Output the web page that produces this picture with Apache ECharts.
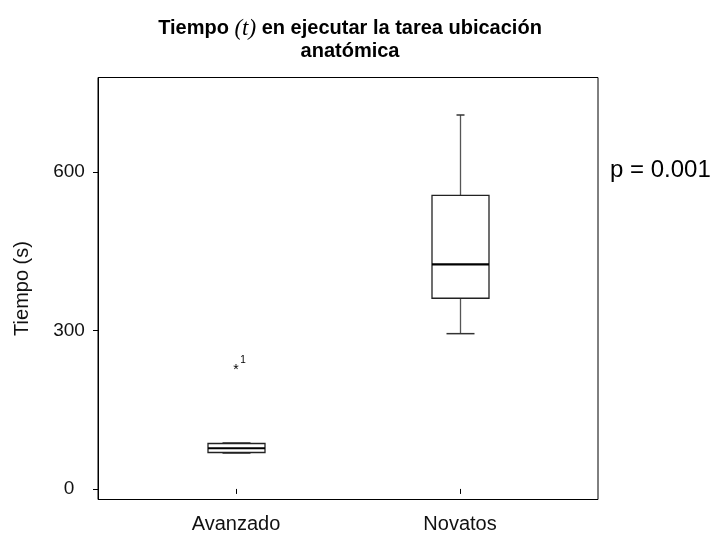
<!DOCTYPE html>
<html>
<head>
<meta charset="utf-8">
<script src="https://cdn.jsdelivr.net/npm/echarts@6/dist/echarts.min.js"></script>
<style>html,body{margin:0;padding:0;background:#fff;}#c{width:719px;height:540px;}</style>
</head>
<body>
<div id="c"></div>
<script>
// ---- data ----
const categories = ['Avanzado', 'Novatos'];
// [min, Q1, median, Q3, max]
const boxValues = [
  [68, 69, 77, 86, 87],
  [294, 361, 425, 556, 708]
];
const outliers = [[0, 228, '1']]; // [category index, value, case label]
const yTicks = [0, 300, 600];
const yMin = -20, yMax = 779;
const yTitle = 'Tiempo (s)';
const pValueText = 'p = 0.001';

// style only: half-widths of the top whisker caps per box
const topCapHalf = [14, 4];

const chart = echarts.init(document.getElementById('c'), null, {renderer: 'canvas'});
const FONT = '"Liberation Sans", Arial, sans-serif';

function renderBox(params, api) {
  const x = api.value(0);
  const vMin = api.value(1), q1 = api.value(2), med = api.value(3), q3 = api.value(4), vMax = api.value(5);
  const pMin = api.coord([x, vMin]);
  const pQ1 = api.coord([x, q1]);
  const pMed = api.coord([x, med]);
  const pQ3 = api.coord([x, q3]);
  const pMax = api.coord([x, vMax]);
  const cx = Math.round(pMin[0]) + 0.5;
  const half = 28.5, capHalf = 14, tc = topCapHalf[params.dataIndex];
  const wStyle = {stroke: '#555', lineWidth: 1.3};
  const children = [
    {type: 'line', shape: {x1: cx, y1: pMax[1], x2: cx, y2: pQ3[1]}, style: wStyle},
    {type: 'line', shape: {x1: cx, y1: pQ1[1], x2: cx, y2: pMin[1]}, style: wStyle},
    {type: 'line', shape: {x1: cx - capHalf, y1: pMin[1], x2: cx + capHalf, y2: pMin[1]}, style: {stroke: '#333', lineWidth: 1.5}},
    {type: 'line', shape: {x1: cx - tc, y1: pMax[1], x2: cx + tc, y2: pMax[1]}, style: {stroke: '#333', lineWidth: 1.5}},
    {type: 'rect', shape: {x: cx - half, y: pQ3[1], width: 2 * half, height: pQ1[1] - pQ3[1]},
      style: {fill: '#fff', stroke: '#222', lineWidth: 1.3}},
    {type: 'line', shape: {x1: cx - half, y1: pMed[1], x2: cx + half, y2: pMed[1]}, style: {stroke: '#000', lineWidth: 2.2}}
  ];
  return {type: 'group', children: children};
}

function renderOutlier(params, api) {
  const p = api.coord([api.value(0), api.value(1)]);
  return {type: 'group', children: [
    {type: 'text', x: p[0], y: p[1] + 2, style: {text: '*', fontSize: 14, fontFamily: FONT, fill: '#000', align: 'center', verticalAlign: 'middle'}},
    {type: 'text', x: p[0] + 7, y: p[1] - 8, style: {text: api.value(2) + '', fontSize: 10, fontFamily: FONT, fill: '#000', align: 'center', verticalAlign: 'middle'}}
  ]};
}

const option = {
  backgroundColor: '#fff',
  animation: false,
  title: [
    {
      left: 345, top: 12, textAlign: 'center',
      text: '{b|Tiempo }{i|(t)}{b| en ejecutar la tarea ubicación}\n{b|anatómica}',
      textStyle: {
        lineHeight: 23,
        rich: {
          b: {fontSize: 20, fontWeight: 'bold', fontFamily: FONT, color: '#000', lineHeight: 23},
          i: {fontSize: 23, fontStyle: 'italic', fontWeight: 'normal', fontFamily: '"Liberation Serif", "DejaVu Serif", serif', color: '#000', lineHeight: 23}
        }
      }
    },
    {
      left: 605, top: 153, text: pValueText,
      textStyle: {fontSize: 24, fontWeight: 'normal', fontFamily: FONT, color: '#000'}
    }
  ],
  grid: [
    {left: 98, top: 77.5, width: 500, bottom: 40.5, show: true, borderColor: '#000', borderWidth: 1, backgroundColor: 'transparent'},
    {left: 124, top: 77.5, width: 448, bottom: 40.5, show: false}
  ],
  xAxis: [
    {gridIndex: 0, type: 'value', show: false, min: 0, max: 1},
    {
      gridIndex: 1, type: 'category', data: categories, boundaryGap: true,
      axisLine: {show: false},
      axisTick: {show: true, alignWithLabel: true, length: 5, lineStyle: {color: '#000'}},
      axisLabel: {fontSize: 20, fontFamily: FONT, color: '#111', margin: 15},
      splitLine: {show: false}
    }
  ],
  yAxis: [
    {
      gridIndex: 0, type: 'value', min: yMin, max: yMax,
      name: yTitle, nameLocation: 'middle', nameGap: 66, nameRotate: 90,
      nameTextStyle: {fontSize: 20, fontFamily: FONT, color: '#111'},
      axisLine: {show: true, lineStyle: {color: '#000'}},
      axisTick: {show: true, length: 5, customValues: yTicks, lineStyle: {color: '#000'}},
      axisLabel: {fontSize: 19, fontFamily: FONT, color: '#111', margin: 29, align: 'center', customValues: yTicks},
      splitLine: {show: false}
    },
    {gridIndex: 1, type: 'value', min: yMin, max: yMax, show: false, splitLine: {show: false}}
  ],
  series: [
    {
      type: 'custom', xAxisIndex: 1, yAxisIndex: 1,
      renderItem: renderBox,
      encode: {x: 0, y: [1, 2, 3, 4, 5]},
      data: boxValues.map((b, i) => [i].concat(b))
    },
    {
      type: 'custom', xAxisIndex: 1, yAxisIndex: 1,
      renderItem: renderOutlier,
      encode: {x: 0, y: 1},
      data: outliers
    }
  ]
};
chart.setOption(option);
</script>
</body>
</html>
